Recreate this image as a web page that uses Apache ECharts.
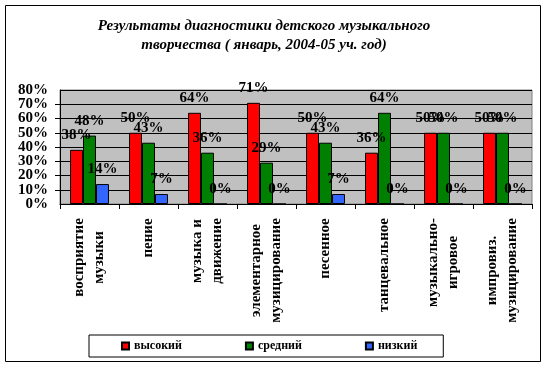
<!DOCTYPE html>
<html><head><meta charset="utf-8">
<script src="https://cdn.jsdelivr.net/npm/echarts@6/dist/echarts.min.js"></script>
<style>html,body{margin:0;padding:0;background:#fff}#c{width:547px;height:368px}</style>
</head><body><div id="c"></div>
<script>
const categories = ['восприятие\nмузыки','пение','музыка и\nдвижение','элементарное\nмузицирование','песенное','танцевальное','музыкально-\nигровое','импровиз.\nмузицирование'];
const seriesNames = ['высокий','средний','низкий'];
const high = [38,50,64,71,50,36,50,50];
const mid = [48,43,36,29,43,64,50,50];
const low = [14,7,0,0,7,0,0,0];
const yTicks = [0,10,20,30,40,50,60,70,80];
const colors = ['#ff0000','#008000','#3366ff'];
const FONT = '"Liberation Serif","Times New Roman",serif';
const XFS = 15;
const Y_MIN = yTicks[0], Y_MAX = yTicks[yTicks.length-1];

// measure longest line of each category label so lines can be centred within the block
const mctx = document.createElement('canvas').getContext('2d');
mctx.font = 'bold ' + XFS + 'px "Liberation Serif"';
const rich = {};
categories.forEach((c, i) => {
  const w = Math.max(...c.split('\n').map(s => mctx.measureText(s).width));
  rich['c' + i] = {fontFamily:FONT, fontWeight:'bold', fontSize:XFS, lineHeight:20, align:'center', width:Math.ceil(w), color:'#000'};
});

const chart = echarts.init(document.getElementById('c'), null, {renderer:'canvas'});
function mk(name, data, color){
  return {
    name, type:'bar', data, barGap:'0%', barCategoryGap:'34%', yAxisIndex:0,
    itemStyle:{color, borderColor:'#000', borderWidth:1},
    label:{show:true, position:'top', distance:7, formatter:'{c}%', color:'#000',
      fontFamily:FONT, fontWeight:'bold', fontSize:15}
  };
}
const yLabelStyle = {margin:12, color:'#000', fontFamily:FONT, fontWeight:'bold', fontSize:15};
chart.setOption({
  animation:false,
  title:{text:'Результаты диагностики детского музыкального\nтворчества ( январь, 2004-05 уч. год)',
    left:259, top:12, textAlign:'center',
    textStyle:{fontFamily:FONT, fontWeight:'bold', fontStyle:'italic', fontSize:15, lineHeight:19, color:'#000'}},
  legend:{data:seriesNames, left:89, top:335, padding:[5,26,5,32], itemGap:63, itemWidth:7, itemHeight:7,
    icon:'rect', borderColor:'#000', borderWidth:1,
    textStyle:{fontFamily:FONT, fontWeight:'bold', fontSize:12, color:'#000'}},
  grid:{left:60, right:15, top:90, bottom:164, show:true, backgroundColor:'#c0c0c0', borderColor:'#808080', borderWidth:1},
  xAxis:{type:'category', data:categories,
    axisLine:{lineStyle:{color:'#000'}},
    axisTick:{show:true, length:5, lineStyle:{color:'#000'}},
    axisLabel:{rotate:90, interval:0, margin:14, color:'#000', hideOverlap:false,
      formatter:(v, i)=>v.split('\n').map(s=>'{c'+i+'|'+s+'}').join('\n'),
      rich}},
  yAxis:[
    {type:'value', min:Y_MIN, max:Y_MAX, interval:10, position:'left',
      axisLine:{show:true, lineStyle:{color:'#000'}},
      axisTick:{show:true, length:5, lineStyle:{color:'#000'}},
      splitLine:{lineStyle:{color:'#000', width:1}},
      axisLabel:Object.assign({formatter:'{value}%', showMinLabel:false, showMaxLabel:false}, yLabelStyle)},
    {type:'value', min:Y_MIN, max:Y_MAX, interval:10, position:'left',
      axisLine:{show:false}, axisTick:{show:false}, splitLine:{show:false},
      axisLabel:Object.assign({formatter:v=>(v===Y_MIN||v===Y_MAX)?v+'%':'', showMinLabel:true, showMaxLabel:true}, yLabelStyle)}
  ],
  graphic:[{type:'rect', shape:{x:5.5, y:5.5, width:535, height:356}, style:{fill:null, stroke:'#000', lineWidth:1}, silent:true, z:-1}],
  series:[mk(seriesNames[0], high, colors[0]), mk(seriesNames[1], mid, colors[1]), mk(seriesNames[2], low, colors[2])]
});
</script></body></html>
